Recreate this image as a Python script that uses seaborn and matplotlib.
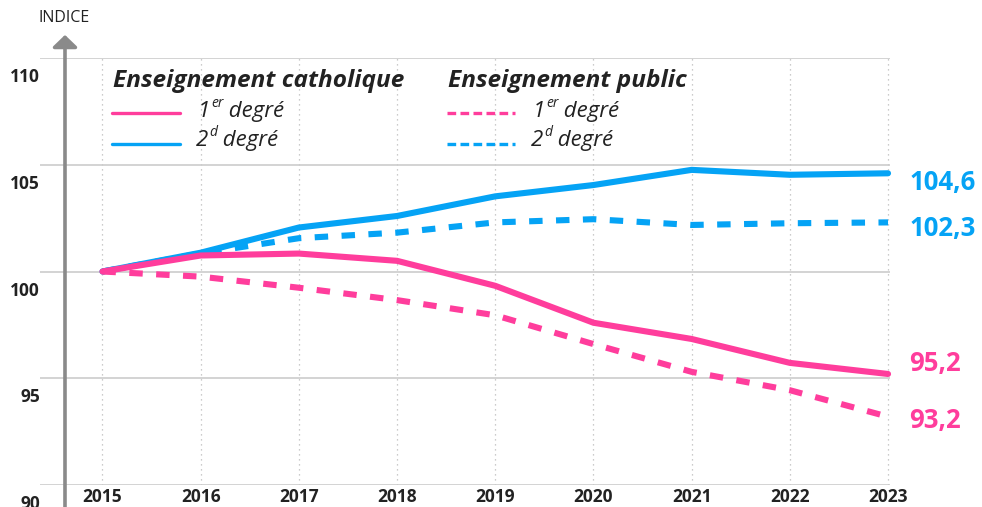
import matplotlib
matplotlib.use("Agg")
import matplotlib.pyplot as plt
import matplotlib.transforms as mtransforms
import pandas as pd
import seaborn as sns

# données (indice base 100 en 2015)
annees = [2015, 2016, 2017, 2018, 2019, 2020, 2021, 2022, 2023]
cath_1er = [100, 100.75, 100.84, 100.5, 99.33, 97.6, 96.84, 95.72, 95.2]
cath_2d = [100, 100.88, 102.06, 102.6, 103.52, 104.05, 104.76, 104.53, 104.6]
pub_1er = [100, 99.76, 99.24, 98.66, 97.95, 96.6, 95.3, 94.44, 93.2]
pub_2d = [100, 100.85, 101.56, 101.82, 102.3, 102.45, 102.18, 102.26, 102.3]

secteurs = ["Enseignement catholique", "Enseignement public"]
degres = ["1er degré", "2d degré"]
y_ticks = [90, 95, 100, 105, 110]
fin_labels = ["104,6", "102,3", "95,2", "93,2"]

ROSE = "#ff3d9c"
BLEU = "#05a3f5"
TXT = "#222222"

rows = []
for sect, deg, vals in [(secteurs[0], degres[0], cath_1er), (secteurs[0], degres[1], cath_2d),
                        (secteurs[1], degres[0], pub_1er), (secteurs[1], degres[1], pub_2d)]:
    for a, v in zip(annees, vals):
        rows.append({"annee": a, "indice": v, "secteur": sect, "degre": deg})
df = pd.DataFrame(rows)

sns.set_theme(style="white")
plt.rcParams["font.family"] = ["Open Sans", "DejaVu Sans"]

fig = plt.figure(figsize=(9.82, 5.07), dpi=100)
ax = fig.add_axes([40 / 982, 22 / 507, 850 / 982, 427 / 507])

sns.lineplot(data=df, x="annee", y="indice", hue="degre", style="secteur",
             hue_order=degres[::-1], style_order=secteurs[::-1],
             palette={degres[0]: ROSE, degres[1]: BLEU},
             dashes={secteurs[0]: "", secteurs[1]: (2.2, 2.2)},
             linewidth=4.4, legend=False, ax=ax)
for ln in ax.get_lines():
    ln.set_solid_joinstyle("round")
    ln.set_clip_on(False)

ax.set_xlim(2014.364, 2023.02)
ax.set_ylim(90, 110)
ax.set_xticks(annees)
ax.set_yticks(y_ticks)
ax.set_xlabel("")
ax.set_ylabel("")
for s in ax.spines.values():
    s.set_visible(False)
ax.grid(True, axis="y", color="#cccccc", lw=1.2)
ax.grid(True, axis="x", color="#bbbbbb", lw=0.9, linestyle=(0, (1, 3)))
ax.tick_params(axis="x", length=0, pad=2.5, labelsize=12.5, labelcolor=TXT)
for lab in ax.get_xticklabels():
    lab.set_fontweight("bold")
ax.tick_params(axis="y", length=0, labelleft=False)

# étiquettes de l'axe y, décalées sous les lignes
ytr = mtransforms.blended_transform_factory(ax.transAxes, ax.transData) + \
    mtransforms.ScaledTranslation(0, -19 / 100, fig.dpi_scale_trans)
for v in y_ticks:
    ax.text(0, v, str(v), transform=ytr, ha="right", va="center",
            fontsize=12.5, fontweight="bold", color=TXT, clip_on=False)

# flèche de l'axe + INDICE
ax.annotate("", xy=(0.0294, 1.054), xytext=(0.0294, -0.06),
            xycoords="axes fraction", textcoords="axes fraction",
            arrowprops=dict(arrowstyle="-|>,head_length=0.72,head_width=0.75",
                            color="#8a8a8a", lw=2.6, shrinkA=0, shrinkB=0,
                            mutation_scale=10),
            annotation_clip=False)
ax.text(0.028, 1.094, "INDICE", transform=ax.transAxes, ha="center", va="center",
        fontsize=11.5, color=TXT)

# valeurs finales
fin_vals = [cath_2d[-1], pub_2d[-1], cath_1er[-1], pub_1er[-1]]
fin_cols = [BLEU, BLEU, ROSE, ROSE]
fin_dy = [-9.5, -6.3, 10.2, -4]
for txt, v, c, dy in zip(fin_labels, fin_vals, fin_cols, fin_dy):
    tr = ax.transData + mtransforms.ScaledTranslation(21 / 100, dy / 100, fig.dpi_scale_trans)
    ax.text(annees[-1], v, txt, transform=tr, ha="left", va="center",
            fontsize=18.5, fontweight="bold", color=c, clip_on=False)

# légende manuelle
def degre(x, y, num, sup):
    t = ax.text(x, y, num, transform=ax.transAxes, fontsize=16, style="italic",
                va="baseline", color=TXT)
    s = ax.annotate(sup, xy=(1, 0), xycoords=t, xytext=(0.5, 8),
                    textcoords="offset points", va="bottom", ha="left",
                    fontsize=10, style="italic", color=TXT)
    ax.annotate(" degré", xy=(1, 0), xycoords=(s, t), va="bottom", ha="left",
                fontsize=16, style="italic", color=TXT)

for sect, x0, x1, xt in [(secteurs[0], 0.0843, 0.1647, 0.186), (secteurs[1], 0.4785, 0.5588, 0.58)]:
    ax.text(x0 + 0.0016, 0.931, sect, transform=ax.transAxes, fontsize=17.6,
            fontweight="bold", style="italic", color=TXT, va="baseline")
    ls = "-" if sect == secteurs[0] else (0, (2.6, 1.3))
    ax.plot([x0, x1], [0.872, 0.872], transform=ax.transAxes, color=ROSE, lw=2.4, ls=ls, clip_on=False)
    ax.plot([x0, x1], [0.7986, 0.7986], transform=ax.transAxes, color=BLEU, lw=2.4, ls=ls, clip_on=False)
    degre(xt, 0.862, "1", "er")
    degre(xt - 0.002, 0.794, "2", "d")

fig.savefig("out.png", dpi=100)
